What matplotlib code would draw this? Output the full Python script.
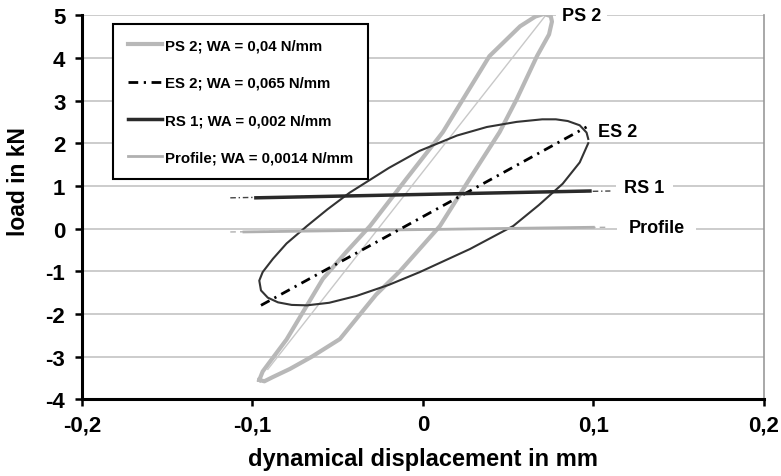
import numpy as np
import matplotlib
matplotlib.use('Agg')
import matplotlib.pyplot as plt

plt.rcParams['font.family'] = ['Liberation Sans', 'DejaVu Sans']
plt.rcParams['font.weight'] = 'bold'
plt.rcParams['axes.unicode_minus'] = False

# PS 2 hysteresis loop
ps2_x = [-0.096, -0.094, -0.080, -0.0587, -0.045, -0.031, -0.010, 0.0117, 0.0235, 0.039, 0.057, 0.066, 0.071,
         0.075, 0.0757, 0.0740, 0.0669, 0.055, 0.045, 0.028, 0.010, -0.0135, -0.0275, -0.0487, -0.065, -0.078, -0.088, -0.093, -0.096]
ps2_y = [-3.55, -3.35, -2.60, -1.18, -0.55, 0.06, 1.15, 2.26, 3.03, 4.04, 4.74, 4.97, 5.03,
         4.98, 4.85, 4.55, 4.04, 3.03, 2.26, 1.20, 0.06, -1.00, -1.55, -2.59, -3.0, -3.29, -3.48, -3.58, -3.55]
ps2_sec_x = [-0.091, 0.0715]
ps2_sec_y = [-3.30, 4.97]

# ES 2 loop and its secant
es2_x = [0.097, 0.096, 0.092, 0.085, 0.078, 0.070, 0.055, 0.0375, 0.020, -0.002, -0.020, -0.043, -0.056, -0.068, -0.080, -0.088, -0.094, -0.096,
         -0.095, -0.091, -0.085, -0.077, -0.068, -0.055, -0.039, -0.020, -0.0018, 0.0276, 0.053, 0.068, 0.082, 0.092, 0.097]
es2_y = [2.10, 2.25, 2.42, 2.52, 2.56, 2.56, 2.50, 2.38, 2.18, 1.82, 1.42, 0.84, 0.45, 0.06, -0.35, -0.71, -1.02, -1.22,
         -1.45, -1.62, -1.73, -1.79, -1.80, -1.74, -1.58, -1.32, -1.02, -0.48, 0.06, 0.55, 1.05, 1.55, 2.00]
es2_sec_x = [-0.095, 0.096]
es2_sec_y = [-1.80, 2.38]

# RS 1 and Profile
rs1_x = [-0.098, 0.098]
rs1_y = [0.72, 0.88]
prof_x = [-0.105, 0.100]
prof_y = [-0.08, 0.03]

labels = ['PS 2; WA = 0,04 N/mm', 'ES 2; WA = 0,065 N/mm',
          'RS 1; WA = 0,002 N/mm', 'Profile; WA = 0,0014 N/mm']
x_ticks = [-0.2, -0.1, 0, 0.1, 0.2]
x_ticklabels = ['-0,2', '-0,1', '0', '0,1', '0,2']
y_ticks = list(range(-4, 6))

fig = plt.figure(figsize=(7.81, 4.77), dpi=100)
ax = fig.add_axes([0.105, 0.161, 0.873, 0.805])

for yy in y_ticks:
    ax.axhline(yy, color='#c4c4c4', lw=1.2, zorder=0)

ax.plot(ps2_sec_x, ps2_sec_y, color='#c8c8c8', lw=1.0, zorder=2)
ax.plot(ps2_x, ps2_y, color='#b8b8b8', lw=3, solid_joinstyle='round', zorder=2, label=labels[0])
ax.plot(es2_x, es2_y, color='#333333', lw=1.5, zorder=3)
ax.plot(es2_sec_x, es2_sec_y, color='black', lw=2, dashes=(3.5, 2, 0.8, 2), zorder=4, label=labels[1])
ax.plot([-0.113, 0.110], [0.72, 0.88], color='#444444', lw=1, dashes=(4, 2, 1, 2), zorder=3)
ax.plot(rs1_x, rs1_y, color='#2a2a2a', lw=2.5, zorder=4, label=labels[2])
ax.plot([-0.113, 0.108], [-0.08, 0.03], color='#b0b0b0', lw=1, dashes=(4, 3), zorder=3)
ax.plot(prof_x, prof_y, color='#b0b0b0', lw=2, zorder=3, label=labels[3])

box = dict(facecolor='white', edgecolor='none', pad=4)
ax.text(0.093, 5.0, 'PS 2', fontsize=13, ha='center', va='center', bbox=box, zorder=5)
ax.text(0.114, 2.28, 'ES 2', fontsize=13, ha='center', va='center', zorder=5)
ax.text(0.130, 0.97, 'RS 1', fontsize=13, ha='center', va='center', bbox=dict(facecolor='white', edgecolor='none', pad=6), zorder=5)
ax.text(0.137, 0.03, 'Profile', fontsize=13, ha='center', va='center', bbox=dict(facecolor='white', edgecolor='none', pad=8), zorder=5)

ax.set_xlim(-0.2, 0.2)
ax.set_ylim(-4, 5)
ax.set_xticks(x_ticks)
ax.set_xticklabels(x_ticklabels)
ax.set_yticks(y_ticks)
ax.tick_params(direction='out', length=5, width=1.8, labelsize=16, colors='black')
ax.tick_params(axis='y', pad=7)
ax.tick_params(axis='x', pad=6)
for t in ax.get_xticklabels() + ax.get_yticklabels():
    t.set_fontweight('bold')

ax.spines['left'].set_linewidth(2.2)
ax.spines['bottom'].set_linewidth(2.2)
ax.spines['right'].set_color('#999999')
ax.spines['right'].set_linewidth(1.2)
ax.spines['top'].set_visible(False)

ax.set_xlabel('dynamical displacement in mm', fontsize=17, fontweight='bold')
ax.xaxis.set_label_coords(0.5, -0.125)
ax.set_ylabel('load in kN', fontsize=16.5, fontweight='bold')
ax.yaxis.set_label_coords(-0.077, 0.57)

leg = ax.legend(loc='upper left', bbox_to_anchor=(0.0455, 0.978), borderaxespad=0,
                handlelength=2.27, handletextpad=0.2, labelspacing=1.55, borderpad=1.0,
                fancybox=False, framealpha=1, edgecolor='black', prop={'weight': 'bold', 'size': 10.8})
leg.get_frame().set_linewidth(1.5)
leg.set_zorder(6)

fig.savefig('out.png', dpi=100)
